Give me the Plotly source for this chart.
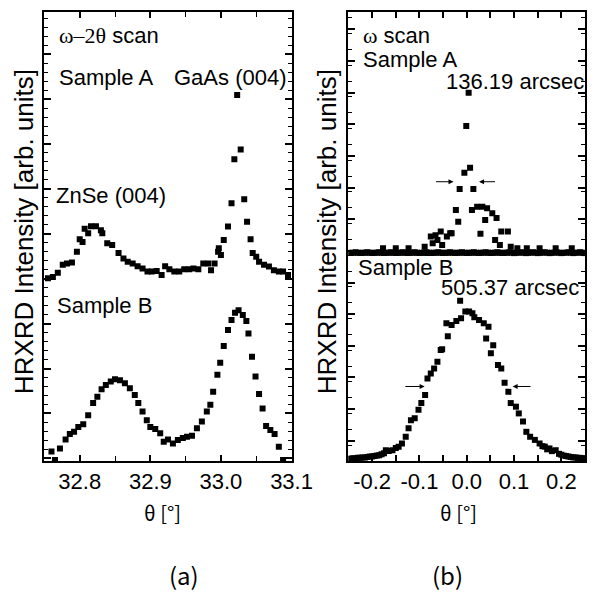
import plotly.graph_objects as go

# ---------------- data: panel (a) omega-2theta scan ----------------
a_theta_A = [32.755, 32.762, 32.769, 32.776, 32.782, 32.789, 32.796, 32.800, 32.804, 32.807,
             32.812, 32.816, 32.823, 32.830, 32.832, 32.839, 32.846, 32.855, 32.862, 32.868,
             32.875, 32.882, 32.889, 32.896, 32.902, 32.909, 32.916, 32.921, 32.927, 32.934,
             32.941, 32.948, 32.955, 32.961, 32.968, 32.975, 32.982, 32.986, 32.991, 32.996,
             32.997, 33.000, 33.004, 33.010, 33.015, 33.019, 33.023, 33.028, 33.033, 33.037,
             33.042, 33.045, 33.050, 33.054, 33.061, 33.068, 33.075, 33.082, 33.088, 33.095]
a_int_A = [40.7, 41.0, 41.9, 43.7, 44.0, 44.2, 46.6, 49.4, 48.8, 51.7,
           50.7, 52.3, 52.3, 51.4, 50.7, 48.5, 48.1, 46.3, 45.1, 44.4,
           44.0, 43.4, 42.9, 42.2, 42.2, 42.3, 41.4, 43.4, 42.7, 42.2,
           42.2, 42.7, 42.7, 42.9, 42.7, 44.0, 44.0, 42.5, 44.0, 46.6,
           47.4, 45.9, 49.2, 52.2, 57.4, 67.2, 81.5, 69.4, 58.3, 53.3,
           49.4, 46.3, 45.5, 44.4, 43.7, 43.3, 42.5, 42.2, 42.2, 41.4]

a_theta_B = [32.760, 32.765, 32.772, 32.780, 32.786, 32.792, 32.798, 32.805, 32.812, 32.819,
             32.825, 32.831, 32.837, 32.844, 32.850, 32.857, 32.864, 32.871, 32.878, 32.883,
             32.889, 32.895, 32.900, 32.907, 32.914, 32.919, 32.925, 32.932, 32.939, 32.946,
             32.952, 32.959, 32.966, 32.973, 32.980, 32.985, 32.989, 32.995, 32.999, 33.004,
             33.010, 33.015, 33.020, 33.025, 33.031, 33.036, 33.039, 33.044, 33.049, 33.054,
             33.059, 33.064, 33.070, 33.076, 33.082, 33.088]
a_int_B = [2.1, 0.2, 2.8, 4.8, 6.0, 6.5, 7.6, 8.2, 10.2, 12.9,
           14.3, 16.0, 16.9, 17.7, 18.2, 18.0, 17.3, 16.2, 14.7, 12.9,
           11.0, 9.1, 7.6, 7.1, 6.2, 4.3, 4.8, 3.9, 4.7, 5.1,
           5.4, 5.6, 7.3, 8.8, 11.0, 12.5, 15.4, 19.2, 21.9, 25.6,
           29.2, 31.4, 33.0, 33.6, 32.5, 31.2, 28.4, 23.2, 18.8, 14.9,
           11.7, 7.8, 6.9, 6.0, 3.2, 0.2]

# ---------------- data: panel (b) omega scan ----------------
b_base_theta_A = [-0.250, -0.245, -0.240, -0.235, -0.230, -0.225, -0.220, -0.215, -0.210, -0.205,
                  -0.200, -0.195, -0.190, -0.185, -0.180, -0.175, -0.170, -0.165, -0.160, -0.155,
                  -0.150, -0.145, -0.140, -0.135, -0.130, -0.125, -0.120, -0.115, -0.110, -0.105,
                  -0.100, -0.095, -0.090, -0.085, -0.080, -0.075, -0.070, -0.065, -0.060, -0.055,
                  -0.050, -0.045, -0.040, -0.035, -0.030, -0.025, -0.020, -0.015, -0.010, -0.005,
                  0.000, 0.005, 0.010, 0.015, 0.020, 0.025, 0.030, 0.035, 0.040, 0.045,
                  0.050, 0.055, 0.060, 0.065, 0.070, 0.075, 0.080, 0.085, 0.090, 0.095,
                  0.100, 0.105, 0.110, 0.115, 0.120, 0.125, 0.130, 0.135, 0.140, 0.145,
                  0.150, 0.155, 0.160, 0.165, 0.170, 0.175, 0.180, 0.185, 0.190, 0.195,
                  0.200, 0.205, 0.210, 0.215, 0.220, 0.225, 0.230, 0.235, 0.240, 0.245, 0.250]
b_base_int_A = [46.4, 46.3, 46.4, 46.5, 46.4, 46.3, 46.4, 46.4, 46.5, 46.4,
                46.3, 46.4, 46.4, 46.5, 46.4, 46.3, 46.4, 46.4, 46.5, 46.4,
                46.3, 46.4, 46.4, 46.5, 46.4, 46.3, 46.4, 46.4, 46.5, 46.4,
                46.3, 46.4, 46.4, 46.5, 46.4, 46.3, 46.4, 46.4, 46.5, 46.4,
                46.3, 46.4, 46.4, 46.5, 46.4, 46.3, 46.4, 46.4, 46.5, 46.4,
                46.3, 46.4, 46.4, 46.5, 46.4, 46.3, 46.4, 46.4, 46.5, 46.4,
                46.3, 46.4, 46.4, 46.5, 46.4, 46.3, 46.4, 46.4, 46.5, 46.4,
                46.3, 46.4, 46.4, 46.5, 46.4, 46.3, 46.4, 46.4, 46.5, 46.4,
                46.3, 46.4, 46.4, 46.5, 46.4, 46.3, 46.4, 46.4, 46.5, 46.4,
                46.3, 46.4, 46.4, 46.5, 46.4, 46.3, 46.4, 46.4, 46.5, 46.4, 46.3]

b_peak_theta_A = [-0.177, -0.150, -0.123, -0.089, -0.083, -0.076, -0.072, -0.066, -0.062, -0.055,
                  -0.052, -0.042, -0.035, -0.032, -0.023, -0.018, -0.015, -0.005, -0.001, 0.004,
                  0.007, 0.011, 0.014, 0.022, 0.029, 0.033, 0.039, 0.043, 0.054, 0.060,
                  0.063, 0.070, 0.073, 0.077, 0.087, 0.093, 0.107, 0.127, 0.154, 0.188, 0.222]
b_peak_int_A = [47.4, 47.4, 47.4, 47.7, 46.3, 50.0, 48.5, 50.3, 49.2, 51.1,
                48.1, 50.0, 50.7, 50.7, 55.9, 53.3, 60.6, 64.2, 74.6, 82.0,
                65.3, 55.9, 60.6, 56.6, 50.6, 56.6, 53.7, 56.3, 55.2, 49.2,
                54.1, 48.1, 51.1, 46.3, 51.1, 47.7, 47.4, 47.4, 47.4, 47.4, 47.4]

b_theta_B = [-0.250, -0.245, -0.240, -0.235, -0.230, -0.225, -0.220, -0.215, -0.210, -0.205,
             -0.200, -0.195, -0.190, -0.185, -0.180, -0.175, -0.171, -0.165, -0.157, -0.150,
             -0.144, -0.137, -0.129, -0.123, -0.118, -0.110, -0.102, -0.096, -0.088, -0.083,
             -0.076, -0.069, -0.062, -0.055, -0.052, -0.043, -0.040, -0.032, -0.022, -0.014,
             -0.012, -0.003, 0.005, 0.012, 0.016, 0.026, 0.036, 0.041, 0.046, 0.051,
             0.056, 0.066, 0.073, 0.080, 0.088, 0.093, 0.104, 0.110, 0.119, 0.126,
             0.134, 0.144, 0.154, 0.160, 0.165, 0.170, 0.175, 0.180, 0.188, 0.195,
             0.200, 0.205, 0.210, 0.215, 0.220, 0.225, 0.230, 0.235, 0.240, 0.245, 0.250]
b_int_B = [0.5, 0.5, 0.6, 0.6, 0.7, 0.7, 0.8, 0.8, 0.9, 1.0,
           1.0, 1.1, 1.2, 1.3, 1.5, 1.7, 2.4, 2.2, 2.4, 2.9,
           3.2, 3.9, 5.4, 7.3, 9.1, 9.5, 11.4, 12.9, 14.7, 18.4,
           19.5, 20.6, 22.1, 24.7, 24.9, 30.7, 27.8, 30.3, 31.2, 35.7,
           31.8, 33.3, 33.3, 32.9, 32.0, 31.4, 30.7, 27.3, 29.9, 24.0,
           25.8, 21.4, 20.6, 17.4, 15.4, 12.9, 12.1, 10.6, 8.8, 6.5,
           5.4, 4.7, 3.9, 3.3, 3.2, 2.6, 2.8, 2.2, 2.4, 1.6,
           1.4, 1.2, 1.1, 1.0, 0.9, 0.8, 0.8, 0.7, 0.7, 0.6, 0.6]

# FWHM arrows: (tail_x, head_x, y)
fwhm_A_tails = [-0.068, 0.063]
fwhm_A_heads = [-0.028, 0.026]
fwhm_A_level = 62.2
fwhm_B_tails = [-0.133, 0.138]
fwhm_B_heads = [-0.089, 0.097]
fwhm_B_level = 16.6

a_xticks = [32.8, 32.9, 33.0, 33.1]
a_xticktext = ["32.8", "32.9", "33.0", "33.1"]
b_xticks = [-0.2, -0.1, 0.0, 0.1, 0.2]
b_xticktext = ["-0.2", "-0.1", "0.0", "0.1", "0.2"]

W, H = 606, 594
SANS = "Liberation Sans"
marker = dict(symbol="square", size=6, color="black", line=dict(width=0))

fig = go.Figure()
fig.add_trace(go.Scatter(x=a_theta_A, y=a_int_A, mode="markers", marker=marker, xaxis="x", yaxis="y"))
fig.add_trace(go.Scatter(x=a_theta_B, y=a_int_B, mode="markers", marker=marker, xaxis="x", yaxis="y"))
fig.add_trace(go.Scatter(x=b_base_theta_A, y=b_base_int_A, mode="markers", marker=marker, xaxis="x2", yaxis="y2"))
fig.add_trace(go.Scatter(x=b_peak_theta_A, y=b_peak_int_A, mode="markers", marker=marker, xaxis="x2", yaxis="y2"))
fig.add_trace(go.Scatter(x=b_theta_B, y=b_int_B, mode="markers", marker=marker, xaxis="x2", yaxis="y2"))


def px(x):
    return x / W


def py(y):
    return 1 - y / H


ydom = [py(461), py(12)]
common_x = dict(showgrid=False, zeroline=False, showline=True, linecolor="black", linewidth=2,
                mirror="ticks", ticks="inside", ticklen=6, tickwidth=1.5, tickcolor="black",
                tickfont=dict(family=SANS, size=22, color="black"))
common_y = dict(showgrid=False, zeroline=False, showline=True, linecolor="black", linewidth=2,
                mirror="ticks", ticks="inside", tickwidth=2, tickcolor="black",
                showticklabels=False)

fig.update_layout(
    width=W, height=H, margin=dict(l=0, r=0, t=0, b=0),
    paper_bgcolor="white", plot_bgcolor="white", showlegend=False,
    xaxis=dict(domain=[px(46), px(302)], range=[32.75, 33.1], anchor="y",
               tickvals=a_xticks, ticktext=a_xticktext,
               minor=dict(dtick=0.05, tick0=32.75, ticklen=5, tickwidth=1, tickcolor="black", ticks="inside"),
               **common_x),
    yaxis=dict(domain=ydom, range=[0, 100], anchor="x", tick0=0.6, dtick=10, ticklen=7,
               minor=dict(dtick=2, tick0=0.6, ticklen=4, tickwidth=1, tickcolor="black", ticks="inside"),
               **common_y),
    xaxis2=dict(domain=[px(361), 1.0], range=[-0.25, 0.25], anchor="y2",
                tickvals=b_xticks, ticktext=b_xticktext,
                minor=dict(dtick=0.05, tick0=0, ticklen=6, tickwidth=1.5, tickcolor="black", ticks="inside"),
                **common_x),
    yaxis2=dict(domain=ydom, range=[0, 100], anchor="x2", tick0=4.5, dtick=7.05, ticklen=7,
                minor=dict(dtick=3.525, ticklen=4, tickwidth=1, tickcolor="black", ticks="inside"),
                **common_y),
)

ann = []


def text(x, y, s, size=22, anchor="left", family=SANS, angle=0):
    ann.append(dict(x=px(x), y=py(y), xref="paper", yref="paper", text=s, showarrow=False,
                    xanchor=anchor, yanchor="middle", textangle=angle,
                    font=dict(family=family, size=size, color="black")))


# panel (a)
text(59, 36, '<span style="font-family:Liberation Serif">ω–2θ</span> scan')
text(59, 78, "Sample A")
text(299, 78, "GaAs (004)", anchor="right")
text(56, 195, "ZnSe (004)")
text(57, 305, "Sample B")
# panel (b)
text(374, 35, '<span style="font-family:Liberation Serif">ω</span> scan')
text(374, 59, "Sample A")
text(460, 81, "136.19 arcsec")
text(369, 267, "Sample B")
text(455, 287, "505.37 arcsec")
# axis titles
text(25, 232, "HRXRD Intensity [arb. units]", size=26, anchor="center", angle=-90)
text(339, 232, "HRXRD Intensity [arb. units]", size=26, anchor="center", angle=-90)
text(168, 512, "θ [°]", size=20, anchor="center", family="Noto Sans CJK KR")
text(475, 512, "θ [°]", size=20, anchor="center", family="Noto Sans CJK KR")
text(191, 574, "(a)", size=24, anchor="center", family="Noto Sans CJK KR")
text(464, 574, "(b)", size=24, anchor="center", family="Noto Sans CJK KR")

# FWHM arrows
for tails, heads, lvl in [(fwhm_A_tails, fwhm_A_heads, fwhm_A_level),
                          (fwhm_B_tails, fwhm_B_heads, fwhm_B_level)]:
    for t, h in zip(tails, heads):
        ann.append(dict(x=h, y=lvl, ax=t, ay=lvl, xref="x2", yref="y2", axref="x2", ayref="y2",
                        text="", showarrow=True, arrowhead=2, arrowsize=1, arrowwidth=1,
                        arrowcolor="black"))

fig.update_layout(annotations=ann)
fig.write_html("out.html")
